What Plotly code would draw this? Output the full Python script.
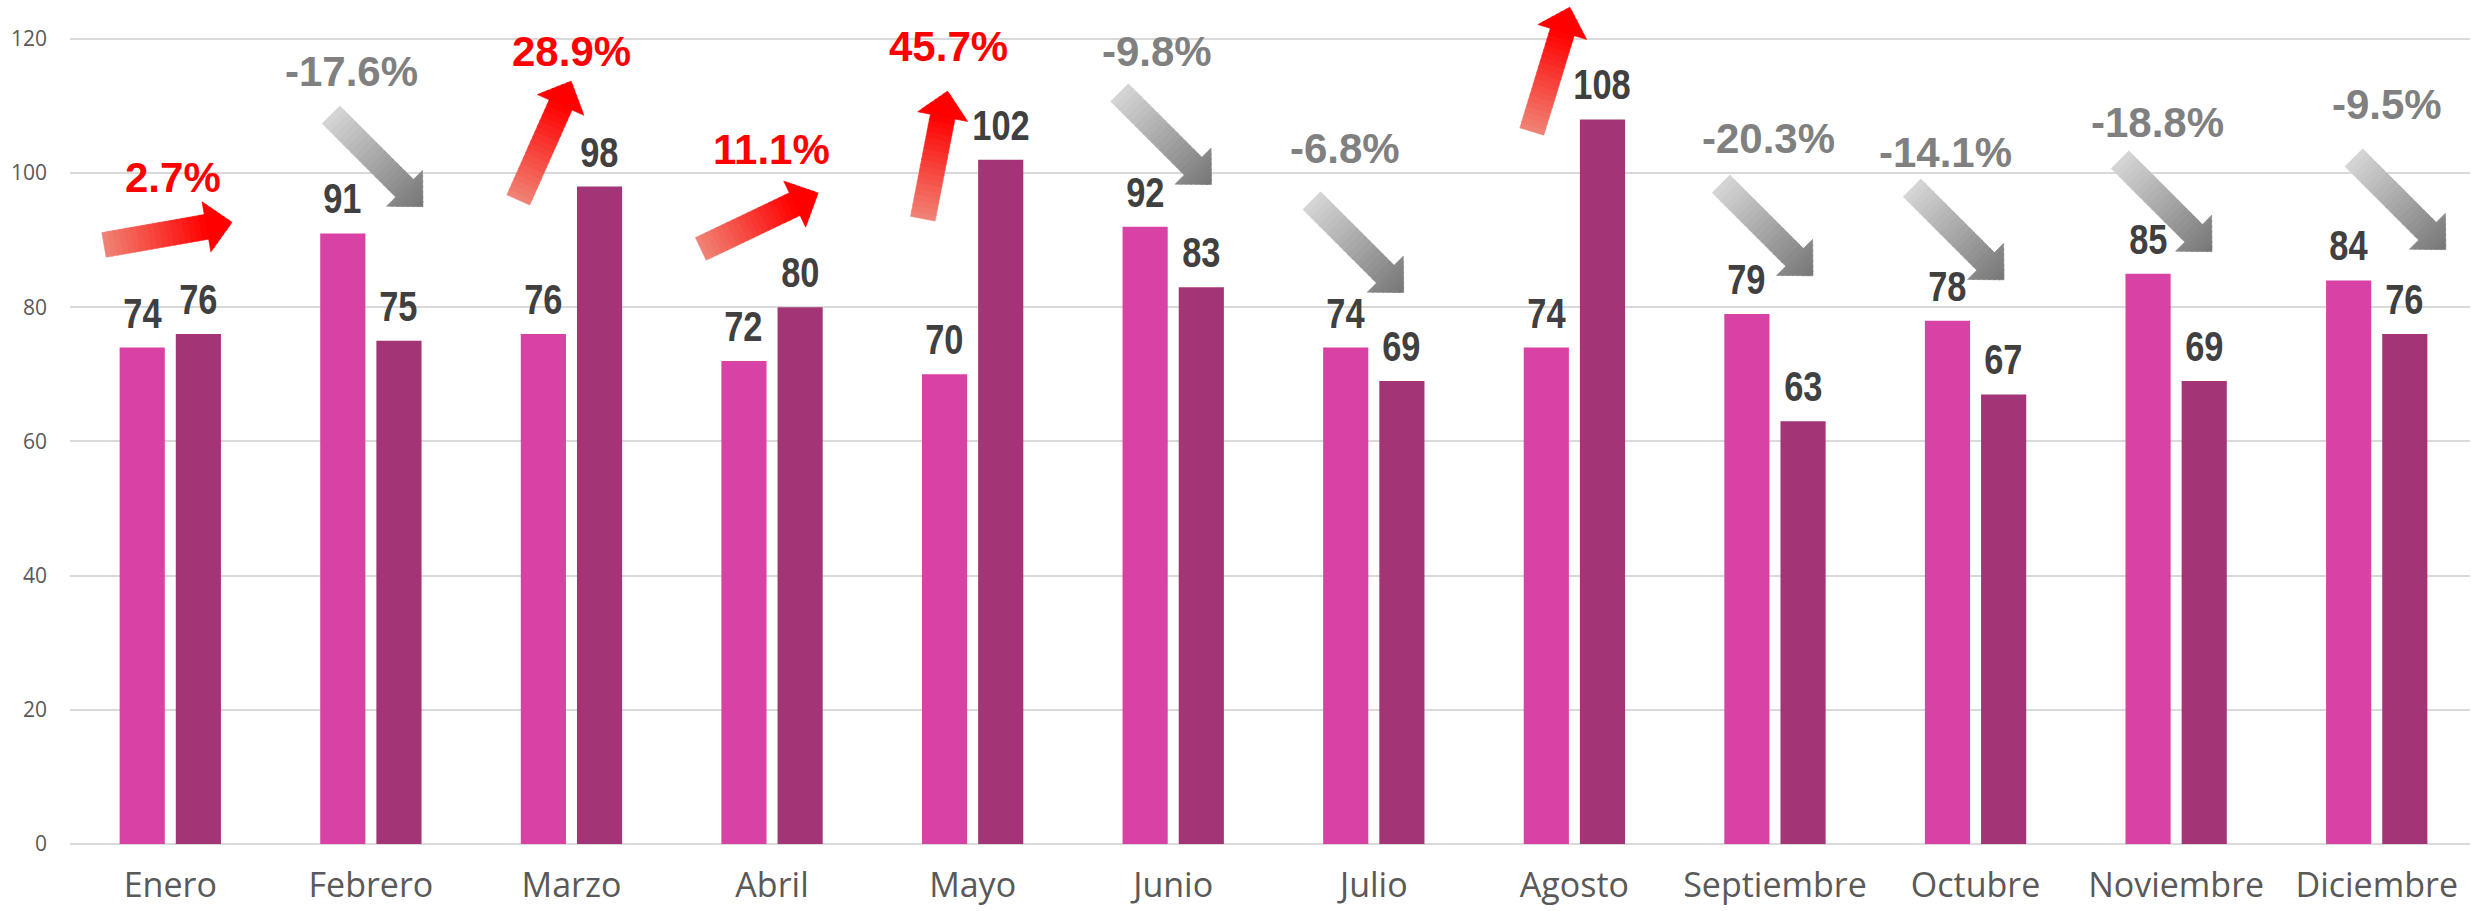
import math
import plotly.graph_objects as go

# ---------------- data ----------------
months = ["Enero", "Febrero", "Marzo", "Abril", "Mayo", "Junio", "Julio",
          "Agosto", "Septiembre", "Octubre", "Noviembre", "Diciembre"]
serie_a = [74, 91, 76, 72, 70, 92, 74, 74, 79, 78, 85, 84]
serie_b = [76, 75, 98, 80, 102, 83, 69, 108, 63, 67, 69, 76]
pct_labels = ["2.7%", "-17.6%", "28.9%", "11.1%", "45.7%", "-9.8%", "-6.8%",
              "45.9%", "-20.3%", "-14.1%", "-18.8%", "-9.5%"]
y_ticks = [0, 20, 40, 60, 80, 100, 120]

# ---------------- decoration placement (arrow tail & label centre) ----------------
arrow_dx = [-0.3305, -0.1988, -0.2650, -0.3551, -0.2483, -0.2677, -0.3094, -0.2121,
            -0.2689, -0.3166, -0.2796, -0.1140]
arrow_y = [89.3, 108.7, 96.0, 88.7, 93.2, 112.0, 95.9, 106.2, 98.4, 97.8, 102.0, 102.3]
arrow_angle = [10, -45, 66, 25.5, 79, -45, -45, 73, -45, -45, -45, -45]
label_dx = [0.0135, -0.0991, -0.0022, -0.0051, -0.1202, -0.0822, -0.1460, None,
            -0.0346, -0.1521, -0.0952, 0.05]
label_y = [99.3, 115.1, 118.1, 103.5, 118.8, 118.1, 103.6, None,
           105.1, 103.0, 107.5, 110.2]

# ---------------- layout constants ----------------
W, H = 2471, 911
ML, MR, MT, MB = 70, 1, 0, 67
Y_MAX = 125.8
X_RANGE = [-0.5, len(months) - 0.535]
PX_PER_X = (W - ML - MR) / (X_RANGE[1] - X_RANGE[0])
PX_PER_Y = (H - MT - MB) / Y_MAX

PINK = "#D942A5"
PURPLE = "#A33577"
LABEL_GRAY = "#404040"
AXIS_GRAY = "#595959"

fig = go.Figure()
xs = list(range(len(months)))
fig.add_trace(go.Bar(x=xs, y=serie_a, marker=dict(color=PINK, line=dict(width=0)), showlegend=False))
fig.add_trace(go.Bar(x=xs, y=serie_b, marker=dict(color=PURPLE, line=dict(width=0)), showlegend=False))


def lerp(c0, c1, t):
    return "rgb(%d,%d,%d)" % tuple(round(a + (b - a) * t) for a, b in zip(c0, c1))


def add_arrow(x0, y0, ang, up):
    L, sw, hw, hl = 130.0, 25.0, 51.0, 26.0
    ux, uy = math.cos(math.radians(ang)), math.sin(math.radians(ang))

    def to_data(u, v):
        px = u * ux - v * uy
        py = u * uy + v * ux
        return x0 + px / PX_PER_X, y0 + py / PX_PER_Y

    if up:
        c0, c1 = (240, 132, 118), (255, 0, 0)
    else:
        c0, c1 = (214, 214, 214), (118, 118, 118)
    n1, n2 = 18, 7
    shaft_end = L - hl
    bounds = [shaft_end * i / n1 for i in range(n1 + 1)] + \
             [shaft_end + hl * i / n2 for i in range(1, n2 + 1)]
    for k in range(len(bounds) - 1):
        u0, u1 = bounds[k], bounds[k + 1]
        ue = min(u1 + 0.8, L) if k < len(bounds) - 2 else u1
        if u1 <= shaft_end + 1e-9:
            pts = [(u0, -sw / 2), (ue, -sw / 2), (ue, sw / 2), (u0, sw / 2)]
        else:
            w0 = hw / 2 * (L - u0) / hl
            we = hw / 2 * (L - ue) / hl
            pts = [(u0, -w0), (ue, -we), (ue, we), (u0, w0)]
        t = ((u0 + u1) / 2) / L
        if up:
            t = min(1.0, t / 0.8)
        col = lerp(c0, c1, t)
        dpts = [to_data(u, v) for u, v in pts]
        dpts.append(dpts[0])
        fig.add_trace(go.Scatter(
            x=[p[0] for p in dpts], y=[p[1] for p in dpts],
            mode="lines", fill="toself", fillcolor=col,
            line=dict(width=0.6, color=col),
            hoverinfo="skip", showlegend=False))


for i in xs:
    up = serie_b[i] >= serie_a[i]
    add_arrow(i + arrow_dx[i], arrow_y[i], arrow_angle[i], up)

annotations = []
value_font = dict(family="Liberation Sans, Arial, sans-serif",
                  size=42, color=LABEL_GRAY, weight="bold")
for i in xs:
    for off, val in ((-0.14, serie_a[i]), (0.14, serie_b[i])):
        annotations.append(dict(
            x=i + off, y=val, text=str(val), showarrow=False,
            xanchor="center", yanchor="bottom", yshift=9, font=value_font))
    if label_y[i] is not None:
        up = serie_b[i] >= serie_a[i]
        annotations.append(dict(
            x=i + label_dx[i], y=label_y[i], text=pct_labels[i], showarrow=False,
            xanchor="center", yanchor="middle",
            font=dict(family="Liberation Sans, Arial, sans-serif", size=42,
                      color="#FF0000" if up else "#808080", weight="bold")))

fig.update_layout(
    width=W, height=H,
    margin=dict(l=ML, r=MR, t=MT, b=MB, pad=0),
    paper_bgcolor="white", plot_bgcolor="white",
    barmode="group", bargap=0.44, bargroupgap=0.196,
    annotations=annotations,
    showlegend=False,
    xaxis=dict(
        range=X_RANGE, tickmode="array", tickvals=xs, ticktext=months,
        showgrid=False, zeroline=False, showline=False, ticks="",
        tickfont=dict(family="Open Sans, sans-serif", size=34, color=AXIS_GRAY),
        ticklabelstandoff=18, fixedrange=True, automargin=False,
    ),
    yaxis=dict(
        range=[0, Y_MAX], tickmode="array", tickvals=y_ticks,
        showgrid=True, gridcolor="#D9D9D9", gridwidth=2,
        zeroline=True, zerolinecolor="#D9D9D9", zerolinewidth=2,
        showline=False, ticks="",
        tickfont=dict(family="Open Sans, sans-serif", size=21, color=AXIS_GRAY),
        ticklabelstandoff=22, fixedrange=True, automargin=False,
    ),
)

# page without default body margin; value labels use a narrow rendering of the bold face
post_js = r"""
document.body.style.margin = '0';
document.body.style.overflow = 'hidden';
document.querySelectorAll('g.annotation text.annotation-text').forEach(function(t){
  if (/^\d+$/.test(t.textContent.trim())) {
    t.style.transformBox = 'fill-box';
    t.style.transformOrigin = 'center';
    t.style.transform = 'scaleX(0.82)';
  }
});
"""

fig.write_html("out.html", config={"displayModeBar": False}, post_script=post_js)
